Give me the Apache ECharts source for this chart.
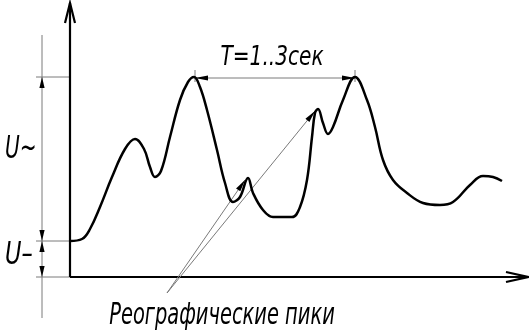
<!DOCTYPE html>
<html>
<head>
<meta charset="utf-8">
<script src="https://cdn.jsdelivr.net/npm/echarts@6/dist/echarts.min.js"></script>
<style>html,body{margin:0;padding:0;background:#fff}#c{width:529px;height:336px}</style>
</head>
<body>
<div id="c"></div>
<script>
// Rheogram signal (time units along x, voltage units along y; origin at axis crossing)
const curveX = [0, 12, 20, 30, 42, 55, 65, 74, 80, 85, 91, 100, 110, 118, 124, 130, 137, 147, 155, 163, 170, 178, 183, 193, 203, 222, 230, 237, 242, 245, 248, 253, 258, 263, 273, 285, 297, 305, 313, 323, 337, 353, 370, 383, 400, 413, 423, 432];
const curveY = [36, 38, 48, 70, 100, 128, 138, 128, 110, 100, 106, 140, 177, 195, 200, 190, 167, 127, 94, 75, 80, 99, 84, 67, 60, 60, 70, 97, 140, 164, 168, 154, 143, 150, 177, 200, 177, 150, 117, 97, 84, 74, 72, 75, 92, 101, 100, 96];

// Levels and markers (same data units)
const levelDC = 36;          // U– level
const levelPeak = 200;       // top of main peaks
const periodPeaksX = [125, 285]; // two main peaks, T apart
const reoTips = [[175, 97], [245, 166]]; // rheographic peaks pointed at
const leaderOrigin = [97, -16];
const axisEnds = [458, 274]; // x-axis end, y-axis end
const dimLineX = -28;
const dimLineRange = [-41, 242];
const extStartX = -34;

const labelPeriod = 'T=1..3сек';
const labelReo = 'Реографические пики';
const labelAC = 'U~';
const labelDC = 'U–';

const FONT = '"DejaVu Sans Condensed", "DejaVu Sans", sans-serif';

function renderAnnotations(params, api) {
  const P = p => api.coord(p);
  const ch = [];
  const line = (a, b, stroke, w) => ch.push({type: 'line', shape: {x1: a[0], y1: a[1], x2: b[0], y2: b[1]}, style: {stroke: stroke, lineWidth: w}});
  const geom = (tip, from, len, hw) => {
    const dx = tip[0] - from[0], dy = tip[1] - from[1];
    const L = Math.hypot(dx, dy) || 1;
    const ux = dx / L, uy = dy / L;
    const bx = tip[0] - ux * len, by = tip[1] - uy * len;
    const nx = -uy, ny = ux;
    return [[bx + nx * hw, by + ny * hw], tip, [bx - nx * hw, by - ny * hw]];
  };
  const filled = (tip, from, len, hw) => ch.push({type: 'polygon', shape: {points: geom(tip, from, len, hw)}, style: {fill: '#000'}});
  const open = (tip, from, len, hw, w) => ch.push({type: 'polyline', shape: {points: geom(tip, from, len, hw)}, style: {stroke: '#000', lineWidth: w, fill: null}});
  const text = (s, at, size, align, sx) => ch.push({type: 'text', x: at[0], y: at[1], scaleX: sx, style: {text: s, x: 0, y: 0, font: 'italic ' + size + 'px ' + FONT, fill: '#000', align: align, verticalAlign: 'middle'}});

  const GRAY = '#7a7a7a';
  const O = P([0, 0]);
  const xEnd = P([axisEnds[0], 0]);
  const yEnd = P([0, axisEnds[1]]);

  // extension lines on the left
  line(P([extStartX, levelPeak]), P([0, levelPeak]), GRAY, 1);
  line(P([extStartX, levelDC]), P([0, levelDC]), GRAY, 1);
  line(P([extStartX, 0]), O, GRAY, 1);

  // vertical dimension line
  const dTop = P([dimLineX, dimLineRange[1]]);
  const dBot = P([dimLineX, dimLineRange[0]]);
  line(dTop, dBot, GRAY, 1);
  const dPeak = P([dimLineX, levelPeak]);
  const dDC = P([dimLineX, levelDC]);
  const d0 = P([dimLineX, 0]);
  filled(dPeak, [dPeak[0], dPeak[1] + 10], 11, 2.6);
  filled(dDC, [dDC[0], dDC[1] - 10], 11, 2.6);
  filled(dDC, [dDC[0], dDC[1] + 10], 11, 2.6);
  filled(d0, [d0[0], d0[1] - 10], 11, 2.6);

  // axes
  line(O, xEnd, '#000', 2.2);
  line(O, yEnd, '#000', 2.2);
  open(xEnd, O, 22, 5, 2.2);
  open(yEnd, O, 20, 5, 2.2);

  // period dimension
  const pa = P([periodPeaksX[0], levelPeak - 1]);
  const pb = P([periodPeaksX[1], levelPeak - 1]);
  line(P([periodPeaksX[0], levelPeak + 7]), P([periodPeaksX[0], levelPeak - 5]), GRAY, 1);
  line(P([periodPeaksX[1], levelPeak + 7]), P([periodPeaksX[1], levelPeak - 5]), GRAY, 1);
  line(pa, pb, GRAY, 1);
  filled(pa, pb, 13, 2.6);
  filled(pb, pa, 13, 2.6);

  // leaders to rheographic peaks
  const lo = P(leaderOrigin);
  reoTips.forEach(t => {
    const tp = P(t);
    line(lo, tp, GRAY, 1);
    filled(tp, lo, 12, 2.6);
  });

  // texts
  text(labelPeriod, P([202, 219]), 26, 'center', 0.86);
  text(labelReo, P([152, -39]), 30, 'center', 0.72);
  text(labelAC, P([-65, 127]), 32, 'left', 0.7);
  text(labelDC, P([-65, 21]), 32, 'left', 0.78);

  return {type: 'group', children: ch};
}

const chart = echarts.init(document.getElementById('c'), null, {renderer: 'canvas'});
chart.setOption({
  animation: false,
  backgroundColor: '#fff',
  grid: {left: 0, right: 0, top: 0, bottom: 0},
  xAxis: {type: 'value', min: -70, max: 459, show: false},
  yAxis: {type: 'value', min: -59, max: 277, show: false},
  series: [
    {
      type: 'custom',
      coordinateSystem: 'cartesian2d',
      silent: true,
      clip: false,
      data: [[0, 0]],
      renderItem: renderAnnotations,
      z: 1
    },
    {
      type: 'line',
      data: curveX.map((x, i) => [x, curveY[i]]),
      smooth: 0.4,
      symbol: 'none',
      clip: false,
      silent: true,
      lineStyle: {color: '#000', width: 2.5},
      z: 2
    }
  ]
});
</script>
</body>
</html>
